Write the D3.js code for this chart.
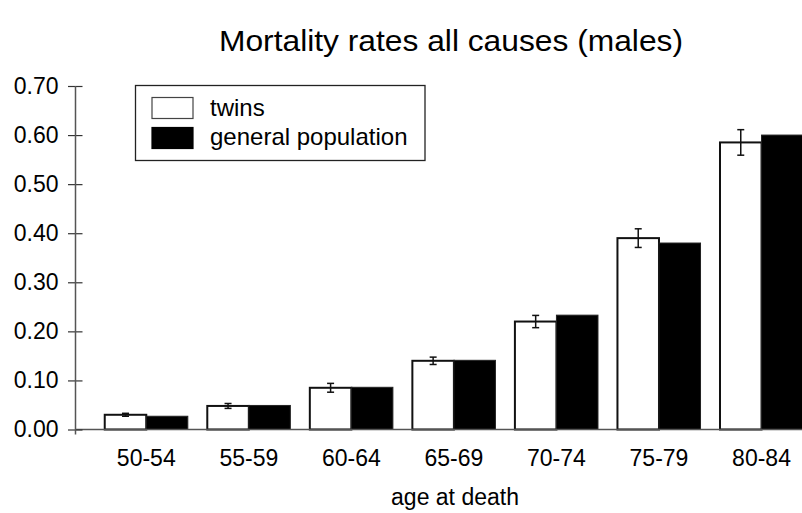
<!DOCTYPE html>
<html>
<head>
<meta charset="utf-8">
<script src="https://cdn.jsdelivr.net/npm/d3@7"></script>
<style>
  html, body { margin: 0; padding: 0; background: #fff; }
  svg { display: block; font-family: "Liberation Sans", Arial, Helvetica, sans-serif; }
</style>
</head>
<body>
<svg id="chart" width="802" height="513"></svg>
<script>
const categories = ["50-54", "55-59", "60-64", "65-69", "70-74", "75-79", "80-84"];
const twins = [0.030, 0.048, 0.085, 0.140, 0.220, 0.390, 0.585];
const twinsErr = [0.003, 0.005, 0.009, 0.0075, 0.0125, 0.019, 0.026];
const generalPopulation = [0.027, 0.049, 0.086, 0.141, 0.233, 0.380, 0.600];
const yTicks = [0, 0.1, 0.2, 0.3, 0.4, 0.5, 0.6, 0.7];
const seriesNames = ["twins", "general population"];
const titleText = "Mortality rates all causes (males)";
const xTitle = "age at death";

const svg = d3.select("#chart");
const axisX = 75.5;
const y = d3.scaleLinear().domain([0, 0.7]).range([429.5, 86]);
const x = d3.scaleBand().domain(categories).range([95, 812.8]).paddingInner(0.19).paddingOuter(0.095);
const xs = d3.scaleBand().domain(seriesNames).range([0, x.bandwidth()]);

// title
svg.append("text").attr("x", 451).attr("y", 51).attr("text-anchor", "middle")
  .attr("font-size", 30).attr("fill", "#000")
  .attr("textLength", 464).attr("lengthAdjust", "spacingAndGlyphs").text(titleText);

// bars
const g = svg.append("g");
categories.forEach((c, i) => {
  g.append("rect").attr("x", x(c) + xs("twins")).attr("y", y(twins[i]))
    .attr("width", xs.bandwidth()).attr("height", y(0) - y(twins[i]))
    .attr("fill", "#fff").attr("stroke", "#111").attr("stroke-width", 2);
  g.append("rect").attr("x", x(c) + xs("general population")).attr("y", y(generalPopulation[i]))
    .attr("width", xs.bandwidth()).attr("height", y(0) - y(generalPopulation[i]))
    .attr("fill", "#000").attr("stroke", "#222").attr("stroke-width", 1);
  // error bar
  const cx = x(c) + xs("twins") + xs.bandwidth() / 2;
  const lo = y(twins[i] - twinsErr[i]), hi = y(twins[i] + twinsErr[i]);
  g.append("line").attr("x1", cx).attr("x2", cx).attr("y1", lo).attr("y2", hi)
    .attr("stroke", "#111").attr("stroke-width", 1.5);
  [lo, hi].forEach(v => g.append("line").attr("x1", cx - 3.5).attr("x2", cx + 3.5)
    .attr("y1", v).attr("y2", v).attr("stroke", "#111").attr("stroke-width", 1.5));
});

// x axis baseline
svg.append("line").attr("x1", axisX).attr("x2", 802).attr("y1", y(0)).attr("y2", y(0))
  .attr("stroke", "#555").attr("stroke-width", 1.5);

// y axis
const yAxis = d3.axisLeft(y).tickValues(yTicks).tickFormat(d3.format(".2f")).tickSize(0).tickPadding(17);
const ya = svg.append("g").attr("transform", `translate(${axisX},0)`).call(yAxis);
ya.select(".domain").remove();
ya.selectAll("text").attr("font-size", 23).attr("fill", "#000").attr("font-family", null);
ya.append("line").attr("x1", 0).attr("x2", 0).attr("y1", y(0.7)).attr("y2", y(0) + 5)
  .attr("stroke", "#555").attr("stroke-width", 1.5);
ya.selectAll(".tick").append("line").attr("x1", -7.5).attr("x2", 7).attr("y1", 0).attr("y2", 0)
  .attr("stroke", "#333").attr("stroke-width", 1.2);

// x axis labels
const xAxis = d3.axisBottom(x).tickSize(0).tickPadding(20);
const xa = svg.append("g").attr("transform", `translate(0,${y(0)})`).call(xAxis);
xa.select(".domain").remove();
xa.selectAll("text").attr("font-size", 23).attr("fill", "#000").attr("font-family", null);

svg.append("text").attr("x", 455).attr("y", 505).attr("text-anchor", "middle")
  .attr("font-size", 23).attr("fill", "#000").text(xTitle);

// legend
const lg = svg.append("g");
lg.append("rect").attr("x", 135.5).attr("y", 85.5).attr("width", 289.5).attr("height", 75)
  .attr("fill", "#fff").attr("stroke", "#222").attr("stroke-width", 1.3);
const swFill = ["#fff", "#000"];
seriesNames.forEach((n, i) => {
  lg.append("rect").attr("x", 152).attr("y", 97.5 + i * 30).attr("width", 41).attr("height", 21)
    .attr("fill", swFill[i]).attr("stroke", i === 0 ? "#444" : "#000").attr("stroke-width", 1.2);
  lg.append("text").attr("x", 210).attr("y", 116 + i * 29).attr("font-size", 24)
    .attr("fill", "#000").text(n);
});
</script>
</body>
</html>
